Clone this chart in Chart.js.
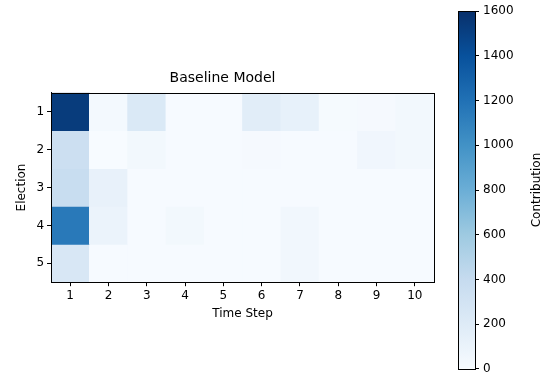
<!DOCTYPE html>
<html>
<head>
<meta charset="utf-8">
<script src="https://cdn.jsdelivr.net/npm/chart.js@4/dist/chart.umd.min.js"></script>
<style>
  html, body { margin: 0; padding: 0; background: #fff; overflow: hidden; }
  #wrap { position: relative; width: 550px; height: 375px; overflow: hidden; }
  #heat { position: absolute; left: 0; top: 0; }
  #cbar { position: absolute; left: 445px; top: 0; }
</style>
</head>
<body>
<div id="wrap">
  <canvas id="heat" width="445" height="375"></canvas>
  <canvas id="cbar" width="105" height="380"></canvas>
</div>
<script>
// data
const timeSteps = ['1','2','3','4','5','6','7','8','9','10'];
const elections = [1, 2, 3, 4, 5];
const election1 = [1530, 30, 230, 10, 10, 180, 130, 15, 20, 40];
const election2 = [350, 0, 40, 10, 10, 20, 10, 10, 60, 40];
const election3 = [380, 120, 10, 10, 10, 10, 10, 10, 10, 10];
const election4 = [1150, 100, 10, 40, 10, 10, 50, 10, 10, 10];
const election5 = [250, 10, 10, 10, 10, 10, 50, 10, 10, 10];
const rows = [election1, election2, election3, election4, election5];
const vMin = 0, vMax = 1600;

// matplotlib "Blues"
const blues = ['#f7fbff','#deebf7','#c6dbef','#9ecae1','#6baed6','#4292c6','#2171b5','#08519c','#08306b'];
function hex2rgb(h) { return [1,3,5].map(i => parseInt(h.substr(i,2),16)); }
function bluesColor(v) {
    let t = Math.max(0, Math.min(1, (v - vMin) / (vMax - vMin))) * (blues.length - 1);
    let i = Math.min(Math.floor(t), blues.length - 2);
    let f = t - i;
    let a = hex2rgb(blues[i]), b = hex2rgb(blues[i+1]);
    let c = a.map((x, k) => Math.round(x + (b[k]-x)*f));
    return `rgb(${c[0]},${c[1]},${c[2]})`;
}

Chart.defaults.font.family = 'DejaVu Sans';
Chart.defaults.font.size = 12;
Chart.defaults.color = '#000';

// frame around plot area
const frame = {
    id: 'frame',
    afterDraw(chart) {
        const {ctx, chartArea: a} = chart;
        ctx.save();
        ctx.strokeStyle = '#000';
        ctx.lineWidth = 1;
        ctx.strokeRect(Math.round(a.left)+0.5, Math.round(a.top)+0.5, Math.round(a.right-a.left), Math.round(a.bottom-a.top));
        ctx.restore();
    }
};

// colorbar label, reading bottom to top like matplotlib
const cbarLabel = {
    id: 'cbarLabel',
    afterDraw(chart) {
        const {ctx, chartArea: a} = chart;
        ctx.save();
        ctx.translate(92, (a.top + a.bottom) / 2);
        ctx.rotate(-Math.PI / 2);
        ctx.fillStyle = '#000';
        ctx.font = '12px "DejaVu Sans"';
        ctx.textAlign = 'center';
        ctx.textBaseline = 'middle';
        ctx.fillText('Contribution', 0, 0);
        ctx.restore();
    }
};

// heatmap: one dataset per election, floating bars spanning one row
const datasets = rows.map((vals, r) => ({
    label: 'Election ' + elections[r],
    data: vals.map(() => [elections[r] - 0.5, elections[r] + 0.5]),
    backgroundColor: vals.map(v => bluesColor(v)),
    borderWidth: 0,
    barPercentage: 1,
    categoryPercentage: 1,
    grouped: false
}));

new Chart(document.getElementById('heat'), {
    type: 'bar',
    data: { labels: timeSteps, datasets: datasets },
    options: {
        responsive: false,
        animation: false,
        layout: { padding: { top: 8, left: 11, right: 11, bottom: 50 } },
        plugins: {
            legend: { display: false },
            tooltip: { enabled: false },
            title: {
                display: true,
                text: 'Baseline Model',
                font: { size: 14, weight: 'normal' },
                padding: { top: 62, bottom: 6 }
            }
        },
        scales: {
            x: {
                grid: { offset: false, drawOnChartArea: false, color: '#000', tickLength: 4 },
                border: { color: '#000' },
                ticks: { padding: 2 },
                title: { display: true, text: 'Time Step', padding: { top: 2 } }
            },
            y: {
                min: 0.5, max: 5.5, reverse: true,
                afterBuildTicks: s => { s.ticks = elections.map(v => ({ value: v })); },
                grid: { drawOnChartArea: false, color: '#000', tickLength: 4 },
                border: { color: '#000' },
                ticks: { padding: 3 },
                title: { display: true, text: 'Election', padding: { bottom: 4 } }
            }
        }
    },
    plugins: [frame]
});

// colorbar
new Chart(document.getElementById('cbar'), {
    type: 'bar',
    data: {
        labels: [''],
        datasets: [{
            data: [[vMin, vMax]],
            barPercentage: 1,
            categoryPercentage: 1,
            borderWidth: 0,
            backgroundColor: ctx => {
                const a = ctx.chart.chartArea;
                if (!a) return blues[4];
                const g = ctx.chart.ctx.createLinearGradient(0, a.bottom, 0, a.top);
                blues.forEach((c, i) => g.addColorStop(i / (blues.length - 1), c));
                return g;
            }
        }]
    },
    options: {
        responsive: false,
        animation: false,
        layout: { padding: { top: 10, left: 13, right: 0, bottom: 0 } },
        plugins: { legend: { display: false }, tooltip: { enabled: false } },
        scales: {
            x: { display: false },
            y: {
                position: 'right',
                min: vMin, max: vMax,
                ticks: { stepSize: 200, padding: 4, callback: v => String(v) },
                afterFit: s => { s.width = 75; },
                grid: { drawOnChartArea: false, color: '#000', tickLength: 4 },
                border: { color: '#000' }
            }
        }
    },
    plugins: [frame, cbarLabel]
});
</script>
</body>
</html>
